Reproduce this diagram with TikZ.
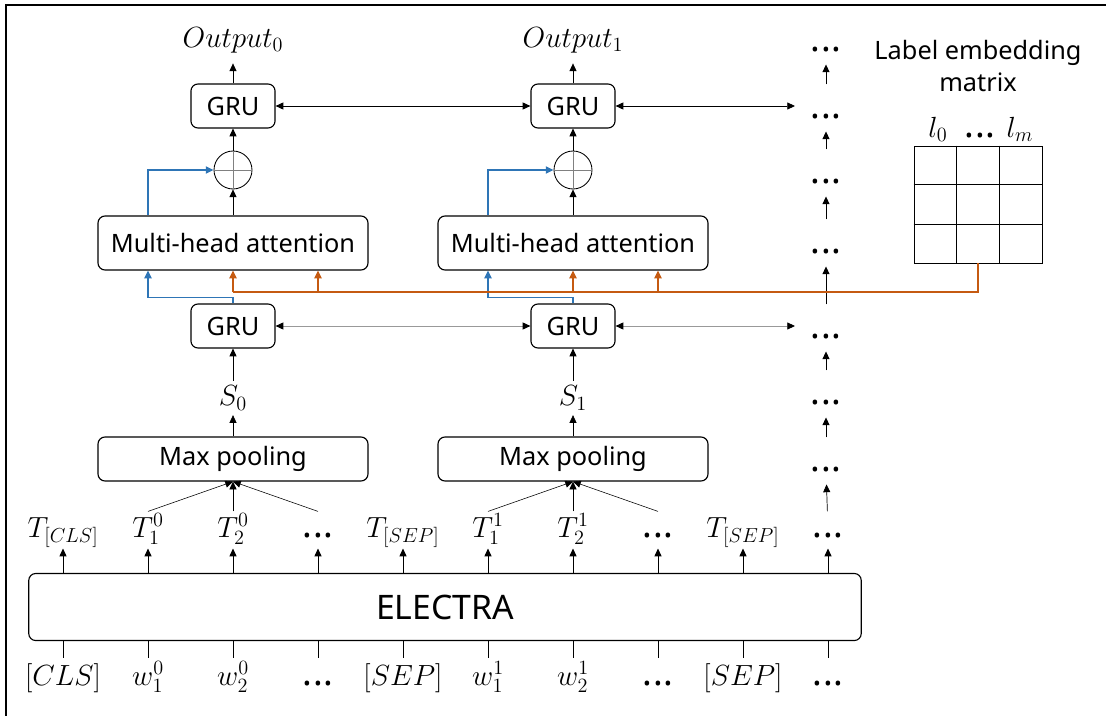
\documentclass[tikz,border=0pt]{standalone}
\usepackage{amsmath,amssymb}
\usepackage{fontspec}
\setmainfont{Noto Sans}
\usepackage{xcolor}
\usetikzlibrary{arrows.meta,calc}
\definecolor{attblue}{HTML}{2E75B6}
\definecolor{lblorange}{HTML}{C55A11}
\newcommand{\elli}{{\fontsize{26}{26}\selectfont\bfseries .\kern0.4pt.\kern0.4pt.}}

\begin{document}
\begin{tikzpicture}[x=0.025cm, y=-0.025cm, >={Triangle[length=5.5pt,width=5pt]}, font=\fontsize{18}{22}\selectfont]
        \tikzstyle{blk}=[draw, line width=0.8pt, rounded corners=5pt]
        \tikzstyle{gru}=[blk, minimum width=59.8pt, minimum height=31.3pt, inner sep=0pt]
        \tikzstyle{wide}=[blk, minimum width=192pt, inner sep=0pt]
        \tikzstyle{mth}=[font=\fontsize{20}{24}\selectfont]
        \tikzstyle{tok}=[mth, anchor=base, text height=17pt, text depth=7pt, inner sep=1pt]
        \tikzstyle{inp}=[mth, anchor=base, text height=18pt, text depth=7pt, inner sep=1pt]
        \tikzstyle{flow}=[->, line width=0.5pt]
        \tikzstyle{col}=[flow, shorten >=5pt, shorten <=18pt]
        \tikzstyle{gline}=[{Triangle[length=5.5pt,width=5pt,color=black]}-{Triangle[length=5.5pt,width=5pt,color=black]}, draw=black!40, line width=0.6pt]
        \tikzstyle{attn}=[->, draw=attblue, line width=1.3pt]
        \tikzstyle{ornline}=[draw=lblorange, line width=1.3pt]
        \useasboundingbox (0,0) rectangle (1106,716);
        \draw[line width=1.1pt] (6,716) -- (6,5) -- (1106,5);
        \node[blk, minimum width=592pt, minimum height=47.7pt, font=\fontsize{24}{28}\selectfont] (electra) at (445,607) {ELECTRA};
        \foreach \lbl [count=\i from 0] in {$T_{[CLS]}$,$T^0_1$,$T^0_2$,\elli,$T_{[SEP]}$,$T^1_1$,$T^1_2$,\elli,$T_{[SEP]}$,\elli}{
            \node[tok] (t\i) at (63+85*\i,537) {\lbl};
            \draw[flow] (electra.north -| t\i) -- (t\i.south);
        }
        \foreach \lbl [count=\i from 0] in {$[CLS]$,$w^0_1$,$w^0_2$,\elli,$[SEP]$,$w^1_1$,$w^1_2$,\elli,$[SEP]$,\elli}{
            \node[inp] (w\i) at (63+85*\i,685) {\lbl};
            \draw[line width=0.5pt] (electra.south -| w\i) -- (w\i.north);
        }
        \foreach \n/\x in {0/233,1/573}{
            \node[mth] (out\n) at (\x,40) {$Output_\n$};
            \node[gru] (gruA\n) at (\x,106) {GRU};
            \node[draw, circle, minimum size=27pt, inner sep=0pt, line width=0.6pt] (plus\n) at (\x,170) {};
            \draw[black!50, line width=0.5pt] (plus\n.north) -- (plus\n.south) (plus\n.west) -- (plus\n.east);
            \node[wide, minimum height=38.4pt] (mha\n) at (\x,243) {Multi-head attention};
            \node[gru] (gruB\n) at (\x,326) {GRU};
            \node[mth] (s\n) at (\x,398) {$S_\n$};
            \node[wide, minimum height=31.3pt] (pool\n) at (\x,459) {Max pooling};
            \draw[flow, shorten >=4pt] (gruA\n) -- (out\n);
            \draw[flow] (plus\n) -- (gruA\n);
            \draw[flow] (mha\n) -- (plus\n);
            \draw[flow] (s\n) -- (gruB\n);
            \draw[flow] (pool\n) -- (s\n);
        }
        \foreach \k in {1,2,3} \draw[line width=0.4pt, ->] (t\k.north) -- (pool0.south);
        \foreach \k in {5,6,7} \draw[line width=0.4pt, ->] (t\k.north) -- (pool1.south);
        \coordinate (endA) at (795,106);
        \coordinate (endB) at (795,326);
        \draw[<->, line width=0.6pt] (gruA0) -- (gruA1);
        \draw[<->, line width=0.6pt] (gruA1) -- (endA);
        \draw[gline] (gruB0) -- (gruB1);
        \draw[gline] (gruB1) -- (endB);
        \foreach \y [count=\i from 0] in {50,117,182,252,337,403,470}
            \node (d\i) at (826,\y) {\elli};
        \foreach \i [evaluate=\i as \j using int(\i+1)] in {0,...,5}
            \draw[col] (d\j) -- (d\i);
        \draw[flow, shorten >=5pt] (t9) -- (d6);
        \node[align=center, font=\fontsize{18}{23}\selectfont] (lemb) at (978,66) {Label embedding\\matrix};
        \node[draw, line width=0.7pt, minimum width=91pt, minimum height=83.2pt, inner sep=0pt] (lmat) at (978,204.5) {};
        \foreach \k in {1,2}{
            \draw[line width=0.6pt] ($(lmat.north west)!\k/3!(lmat.north east)$) -- ($(lmat.south west)!\k/3!(lmat.south east)$);
            \draw[line width=0.6pt] ($(lmat.north west)!\k/3!(lmat.south west)$) -- ($(lmat.north east)!\k/3!(lmat.south east)$);
        }
        \node[mth, anchor=base] (l0) at (938,137) {$l_0$};
        \node[anchor=base] (ldots) at (980,137) {\elli};
        \node[mth, anchor=base] (lm) at (1020,137) {$l_m$};
        \draw[attn] (gruB0.north) -- ++(0,-6) -| (mha0.south -| t1);
        \draw[attn] (mha0.north -| t1) |- (plus0.west);
        \draw[attn] (gruB1.north) -- ++(0,-6) -| (mha1.south -| t5);
        \draw[attn] (mha1.north -| t5) |- (plus1.west);
        \coordinate (ojoin) at (233,292);
        \draw[ornline] (lmat.south) |- (ojoin);
        \foreach \k/\m in {2/0,3/0,6/1,7/1}
            \draw[ornline, ->] (ojoin -| t\k) -- (mha\m.south -| t\k);
\end{tikzpicture}
\end{document}
